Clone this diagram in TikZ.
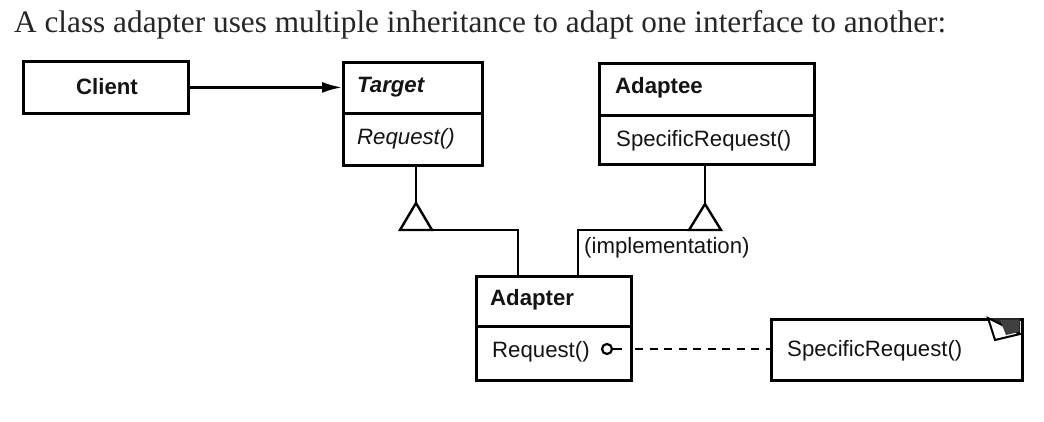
\documentclass[tikz,border=0pt]{standalone}
\usepackage{fontspec}
\newfontfamily\diagfont{Liberation Sans}
\newfontfamily\titlefont{Liberation Serif}
\usetikzlibrary{arrows.meta}
\begin{document}
\begin{tikzpicture}[x=1pt,y=-1pt,
  box/.style={draw=black,line width=2.8pt,rectangle,inner sep=0pt,anchor=north west},
  lbl/.style={anchor=west,inner sep=0pt,font=\diagfont\fontsize{22.2}{25}\selectfont,text=black!92},
  conn/.style={draw=black,line width=2.4pt},
  tri/.style={draw=black,line width=2.4pt,fill=white,line join=miter}
]
\useasboundingbox (0,0) rectangle (1044,422);
\fill[white] (0,0) rectangle (1044,422);

% title
\node[anchor=base west,inner sep=0pt,text=black!85] (title) at (14,33)
  {\resizebox{932pt}{!}{\titlefont A class adapter uses multiple inheritance to adapt one interface to another:}};

% Client
\node[box,minimum width=165pt,minimum height=52pt] (client) at (22,60) {};
\node[lbl,anchor=center] (clienttext) at (107,87) {\bfseries Client};

% Target
\node[box,minimum width=139pt,minimum height=51pt] (tgtname) at (342,61) {};
\node[box,minimum width=139pt,minimum height=52pt] (tgtops) at (342,112) {};
\node[lbl] (tgtnametext) at (357,87) {\bfseries\itshape Target};
\node[lbl] (tgtopstext) at (357,139) {\itshape Request()};

% Adaptee
\node[box,minimum width=215pt,minimum height=52pt] (adtname) at (598,62) {};
\node[box,minimum width=215pt,minimum height=49pt] (adtops) at (598,114) {};
\node[lbl] (adtnametext) at (615,88) {\bfseries Adaptee};
\node[lbl] (adtopstext) at (616,141) {SpecificRequest()};

% Adapter
\node[box,minimum width=155pt,minimum height=50pt] (adpname) at (475,275) {};
\node[box,minimum width=155pt,minimum height=54pt] (adpops) at (475,325) {};
\node[lbl] (adpnametext) at (490,300) {\bfseries Adapter};
\node[lbl] (adpopstext) at (492,352) {Request()};

% Note
\node[box,minimum width=251pt,minimum height=61pt] (note) at (770,318) {};
\node[lbl] (notetext) at (787,351) {SpecificRequest()};
\fill[black!85] (988,318) -- (1020,318) -- (1020,334) -- cycle;
\draw[line width=2pt,fill=white,line join=miter] (988,318) -- (995,340) -- (1020,334) -- cycle;
\fill[black!75] (1000,320) -- (1019,320) -- (1019,332) -- (1006,335) -- cycle;

% Client -> Target
\draw[conn,-{Latex[length=20pt,width=11pt]}] (client.east) -- (client.east -| tgtname.west);

% Target inheritance
\coordinate (tapex) at (416,203);
\coordinate (tbl) at (400,230);
\coordinate (tbr) at (432,230);
\coordinate (tjoin) at (518,230);
\draw[conn] (tapex |- tgtops.south) -- (tapex);
\draw[tri] (tapex) -- (tbl) -- (tbr) -- cycle;
\draw[conn] (tbr) -- (tjoin) -- (tjoin |- adpname.north);

% Adaptee inheritance
\coordinate (aapex) at (705,204);
\coordinate (abl) at (689,230);
\coordinate (abr) at (721,230);
\coordinate (ajoin) at (578,230);
\draw[conn] (aapex |- adtops.south) -- (aapex);
\draw[tri] (aapex) -- (abl) -- (abr) -- cycle;
\draw[conn] (abl) -- (ajoin) -- (ajoin |- adpname.north);
\node[lbl] (impltext) at (584,248) {(implementation)};

% Request() -> note
\node[circle,draw=black,line width=2.2pt,minimum size=10pt,inner sep=0pt] (opdot) at (607,349) {};
\coordinate (optick) at (622,349);
\draw[line width=2.2pt] (opdot.east) -- (optick);
\draw[line width=2.4pt,dash pattern=on 8pt off 6.5pt] (635,349) -- (635,349 -| note.west);
\end{tikzpicture}
\end{document}
